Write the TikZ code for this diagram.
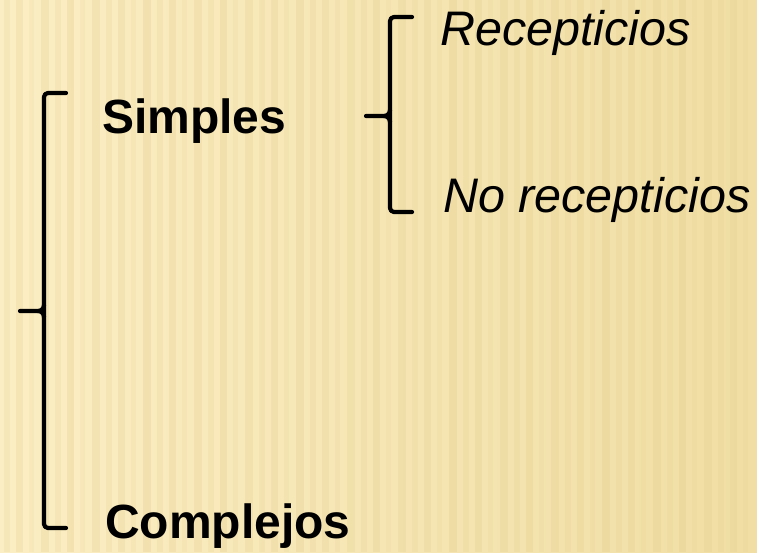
\documentclass[tikz,border=0pt]{standalone}
\usepackage{fontspec}
\setmainfont{Liberation Sans}
\definecolor{paperlight}{RGB}{252,238,196}
\definecolor{paperdark}{RGB}{240,222,164}
\definecolor{stripe}{RGB}{226,204,140}
\tikzset{
  brace/.style={line width=4.2pt, line cap=round, line join=round, rounded corners=4pt},
  bigword/.style={font=\fontsize{48}{52}\selectfont\bfseries, anchor=base west, inner sep=0pt},
  smallword/.style={font=\fontsize{48.5}{52}\selectfont\itshape, anchor=base west, inner sep=0pt}
}
\begin{document}
\begin{tikzpicture}[x=1pt, y=-1pt]
  % paper background with vertical stripes
  \shade[left color=paperlight, right color=paperdark] (0,0) rectangle (757,552);
  \foreach \x/\w/\o in {4/6/.2, 16/7/.25, 29/5/.15, 41/8/.25, 55/6/.2, 67/7/.3, 80/5/.15, 92/8/.25,
      106/6/.2, 118/7/.25, 131/5/.15, 143/8/.3, 157/6/.2, 169/7/.25, 182/5/.15, 194/8/.25,
      208/6/.2, 220/7/.3, 233/5/.15, 245/8/.25, 259/6/.2, 271/7/.25, 284/5/.15, 296/8/.3,
      310/6/.2, 322/7/.25, 335/5/.15, 347/8/.25, 361/6/.2, 373/7/.3, 386/5/.15, 398/8/.25,
      412/6/.2, 424/7/.25, 437/5/.15, 449/8/.3, 463/6/.2, 475/7/.25, 488/5/.15, 500/8/.25,
      514/6/.2, 526/7/.3, 539/5/.15, 551/8/.25, 565/6/.2, 577/7/.25, 590/5/.15, 602/8/.3,
      616/6/.2, 628/7/.25, 641/5/.15, 653/8/.25, 667/6/.2, 679/7/.3, 692/5/.15, 704/8/.25,
      718/6/.2, 730/7/.25, 743/5/.15}
    \fill[stripe, opacity=\o] (\x,0) rectangle ++(\w,552);
  \useasboundingbox (0,0) rectangle (757,552);

  % words
  \node[bigword] (simples) at (102,133) {Simples};
  \node[bigword] (complejos) at (105,538) {Complejos};
  \node[smallword] (recep) at (440,45) {Recepticios};
  \node[smallword] (norecep) at (443,212) {No recepticios};

  % big brace
  \coordinate (bigtip) at (20,311);
  \draw[brace] (66,93) -- (44,93) -- (44,528) -- (66,528);
  \draw[brace, rounded corners=0pt] (bigtip) -- (38,311) to[out=0,in=-90] (44,305);
  \draw[brace, rounded corners=0pt] (38,311) to[out=0,in=90] (44,317);

  % small brace
  \coordinate (smalltip) at (366,116);
  \draw[brace] (412,17) -- (390,17) -- (390,212) -- (412,212);
  \draw[brace, rounded corners=0pt] (smalltip) -- (384,116) to[out=0,in=-90] (390,110);
  \draw[brace, rounded corners=0pt] (384,116) to[out=0,in=90] (390,122);
\end{tikzpicture}
\end{document}
